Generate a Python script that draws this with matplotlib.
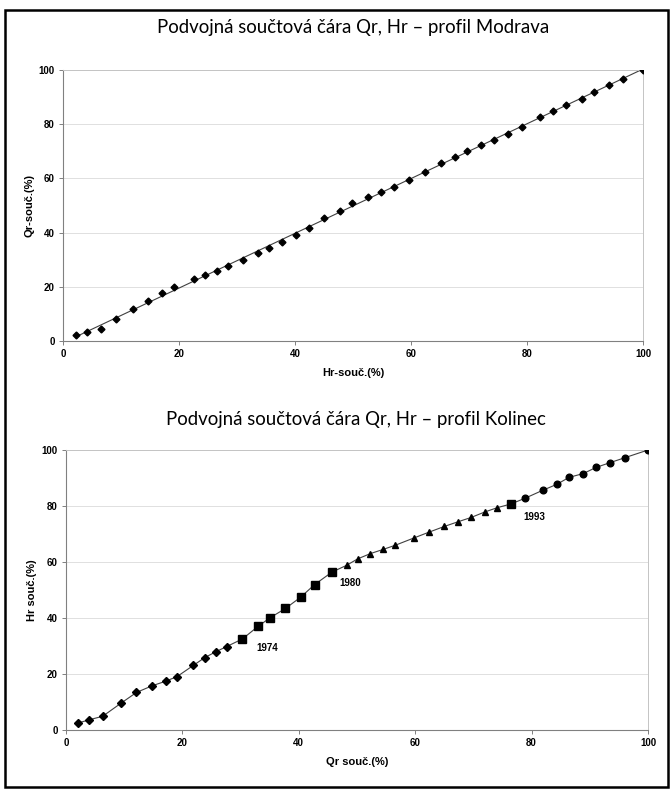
import numpy as np
import matplotlib.pyplot as plt
from matplotlib.patches import Rectangle

# profil Modrava: Hr-souc. (x), Qr-souc. (y)
mod_hr = [2.2, 4.2, 6.6, 9.2, 12.0, 14.7, 17.1, 19.2, 22.5, 24.5, 26.6, 28.4, 31.1,
          33.7, 35.6, 37.8, 40.1, 42.4, 45.0, 47.7, 49.8, 52.5, 54.9, 57.0, 59.7,
          62.4, 65.1, 67.5, 69.7, 72.1, 74.3, 76.7, 79.1, 82.2, 84.5, 86.7, 89.4,
          91.5, 94.1, 96.5, 100.0]
mod_qr = [2.2, 3.4, 4.6, 8.1, 11.9, 14.6, 17.6, 19.8, 22.7, 24.3, 25.8, 27.5, 30.0,
          32.5, 34.2, 36.5, 39.2, 41.8, 45.3, 48.1, 50.8, 53.0, 55.1, 56.9, 59.4,
          62.5, 65.6, 67.9, 70.1, 72.2, 74.0, 76.3, 78.9, 82.7, 84.9, 87.1, 89.3,
          91.9, 94.5, 96.7, 100.0]

# profil Kolinec: Qr souc. (x), Hr souc. (y), split by period
kol_diam_x = [2.1, 3.9, 6.3, 9.4, 12.1, 14.8, 17.1, 19.1, 21.9, 23.8, 25.7, 27.6]
kol_diam_y = [2.5, 3.6, 4.9, 9.5, 13.4, 15.8, 17.4, 19.1, 23.1, 25.8, 27.9, 29.8]
kol_sq_x = [30.3, 33.0, 35.0, 37.7, 40.3, 42.7, 45.7]
kol_sq_y = [32.5, 37.0, 40.0, 43.4, 47.4, 51.9, 56.4]
kol_tri_x = [48.2, 50.1, 52.3, 54.5, 56.6, 59.8, 62.3, 65.0, 67.4, 69.6, 72.0, 74.1]
kol_tri_y = [58.8, 61.1, 63.0, 64.5, 66.0, 68.6, 70.6, 72.7, 74.4, 75.9, 77.9, 79.4]
kol_sq2_x = [76.4]
kol_sq2_y = [80.7]
kol_circ_x = [78.8, 81.9, 84.4, 86.4, 88.9, 91.1, 93.5, 96.1, 100.0]
kol_circ_y = [82.7, 85.6, 87.8, 90.2, 91.6, 93.8, 95.5, 97.3, 100.0]

years = ["1974", "1980", "1993"]
year_pts = [(kol_sq_x[0], kol_sq_y[0]), (kol_sq_x[-1], kol_sq_y[-1]), (kol_sq2_x[0], kol_sq2_y[0])]

ticks = [0, 20, 40, 60, 80, 100]
title_font = ["Lato", "DejaVu Sans"]
lab_font = ["Liberation Sans", "DejaVu Sans"]


def style_axes(ax):
    ax.set_xlim(0, 100)
    ax.set_ylim(0, 100)
    ax.set_xticks(ticks)
    ax.set_yticks(ticks)
    ax.grid(axis="y", color="#dadada", lw=0.6)
    ax.set_axisbelow(True)
    for s in ["top", "right"]:
        ax.spines[s].set_color("#c4c4c4")
        ax.spines[s].set_linewidth(0.7)
    for s in ["left", "bottom"]:
        ax.spines[s].set_color("#808080")
        ax.spines[s].set_linewidth(0.8)
    ax.tick_params(length=3, width=0.7, color="#808080", labelsize=7, pad=3)
    for lb in ax.get_xticklabels() + ax.get_yticklabels():
        lb.set_fontweight("bold")
        lb.set_family(lab_font)


fig = plt.figure(figsize=(6.71, 7.92), dpi=100)
fig.patches.append(Rectangle((0.008, 0.006), 0.987, 0.981, transform=fig.transFigure,
                             fill=False, edgecolor="black", lw=1.8))

# top chart
ax1 = fig.add_axes([63 / 671, 1 - 341 / 792, 580 / 671, 271 / 792])
coef = np.polyfit(mod_hr, mod_qr, 1)
xl = np.array([mod_hr[0], 100])
ax1.plot(xl, np.polyval(coef, xl), color="#404040", lw=0.8, zorder=2)
ax1.plot(mod_hr, mod_qr, ls="none", marker="D", ms=3.5, color="black", zorder=3)
style_axes(ax1)
ax1.set_xlabel("Hr-souč.(%)", fontsize=8, fontweight="bold", family=lab_font, labelpad=6)
ax1.set_ylabel("Qr-souč.(%)", fontsize=8, fontweight="bold", family=lab_font, labelpad=3)
fig.text(353 / 671, 1 - 27 / 792, "Podvojná součtová čára Qr, Hr – profil Modrava",
         ha="center", va="center", fontsize=13.4, family=title_font)

# bottom chart
ax2 = fig.add_axes([66 / 671, 1 - 730 / 792, 582 / 671, 280 / 792])
all_x = kol_diam_x + kol_sq_x + kol_tri_x + kol_sq2_x + kol_circ_x
all_y = kol_diam_y + kol_sq_y + kol_tri_y + kol_sq2_y + kol_circ_y
ax2.plot(all_x, all_y, color="#404040", lw=0.8, zorder=2)
ax2.plot(kol_diam_x, kol_diam_y, ls="none", marker="D", ms=4, color="black", zorder=3)
ax2.plot(kol_sq_x + kol_sq2_x, kol_sq_y + kol_sq2_y, ls="none", marker="s", ms=5.5,
         color="black", zorder=3)
ax2.plot(kol_tri_x, kol_tri_y, ls="none", marker="^", ms=4.5, color="black", zorder=3)
ax2.plot(kol_circ_x, kol_circ_y, ls="none", marker="o", ms=4.8, color="black", zorder=3)
offsets = [(18, -6.5), (13, -8), (17, -9.5)]
for yr, pt, off in zip(years, year_pts, offsets):
    ax2.annotate(yr, xy=pt, xytext=off, textcoords="offset points", ha="center", va="center",
                 fontsize=7, fontweight="bold", family=lab_font)
style_axes(ax2)
ax2.set_xlabel("Qr souč.(%)", fontsize=8, fontweight="bold", family=lab_font, labelpad=6)
ax2.set_ylabel("Hr souč.(%)", fontsize=8, fontweight="bold", family=lab_font, labelpad=3)
fig.text(356 / 671, 1 - 420 / 792, "Podvojná součtová čára Qr, Hr – profil Kolinec",
         ha="center", va="center", fontsize=13.4, family=title_font)

fig.savefig("out.png", dpi=100)
